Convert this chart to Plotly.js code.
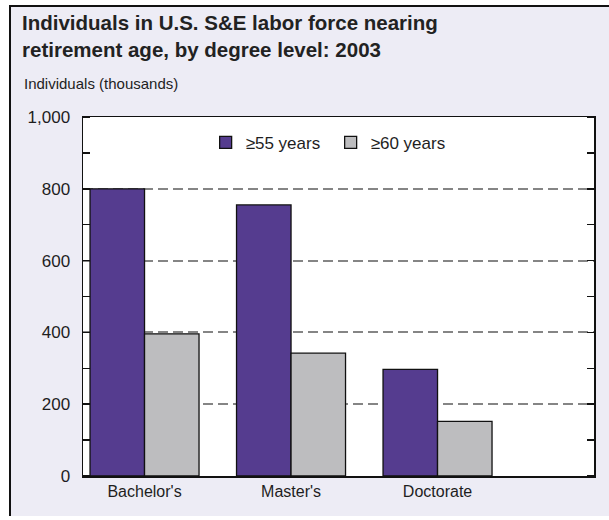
<!DOCTYPE html>
<html>
<head>
<meta charset="utf-8">
<script src="https://cdn.plot.ly/plotly-3.0.1.min.js"></script>
<style>
  html, body { margin: 0; padding: 0; background: #ffffff; }
  #frame {
    position: absolute; left: 9px; top: 5px;
    width: 600px; height: 511px;
    box-sizing: border-box;
    border-left: 2px solid #111; border-top: 2px solid #111;
    background: #EDECF5;
  }
  #chart { width: 598px; height: 509px; }
</style>
</head>
<body>
<div id="frame"><div id="chart"></div></div>
<script>
// Data
const categories = ["Bachelor's", "Master's", "Doctorate"];
const age55 = [800, 755, 297];
const age60 = [396, 342, 152];
const seriesNames = ["\u226555 years", "\u226560 years"];
const yTickVals = [0, 200, 400, 600, 800, 1000];
const yTickText = ["0", "200", "400", "600", "800", "1,000"];

const FONT = "'Liberation Sans', Arial, Helvetica, sans-serif";
const TXT = "#1e1e1e";

const traces = [
  {
    type: "bar", name: seriesNames[0], x: categories, y: age55,
    marker: { color: "#553C8F", line: { color: "#111111", width: 1.3 } },
    hoverinfo: "x+y+name"
  },
  {
    type: "bar", name: seriesNames[1], x: categories, y: age60,
    marker: { color: "#BDBDBF", line: { color: "#111111", width: 1.3 } },
    hoverinfo: "x+y+name"
  }
];

const layout = {
  width: 598, height: 509,
  margin: { l: 72, r: 15, t: 110, b: 40, pad: 0 },
  paper_bgcolor: "rgba(0,0,0,0)",
  plot_bgcolor: "#ffffff",
  font: { family: FONT, color: TXT, size: 16 },
  barmode: "group",
  bargap: 0.256,
  bargroupgap: 0,
  title: {
    text: "Individuals in U.S. S&E labor force nearing<br>retirement age, by degree level: 2003",
    font: { family: FONT, size: 20.5, color: "#222222", weight: "bold" },
    x: 11 / 598, xref: "container", xanchor: "left",
    y: 1 - 23 / 509, yref: "container", yanchor: "top"
  },
  xaxis: {
    type: "category",
    range: [-0.42, 3.068],
    showline: true, linecolor: "#111111", linewidth: 1.5,
    mirror: true,
    ticks: "", showgrid: false, zeroline: false,
    tickfont: { size: 16, color: TXT }
  },
  yaxis: {
    range: [0, 1000],
    tickvals: yTickVals, ticktext: yTickText,
    ticks: "",
    showline: true, linecolor: "#111111", linewidth: 1.5,
    mirror: "allticks",
    showgrid: true, gridcolor: "#858585", gridwidth: 1.8, griddash: "10px,5px",
    zeroline: false,
    minor: { dtick: 100, tick0: 0, ticks: "inside", ticklen: 7, tickcolor: "#111111", tickwidth: 1.5, showgrid: false },
    tickfont: { size: 17, color: TXT },
    ticklabelstandoff: 8
  },
  showlegend: true,
  legend: {
    orientation: "h",
    x: 0.24, xanchor: "left",
    y: 0.928, yanchor: "middle",
    bgcolor: "rgba(0,0,0,0)",
    font: { size: 17, color: TXT },
    entrywidth: 80, entrywidthmode: "pixels",
    traceorder: "normal"
  },
  annotations: [
    {
      text: "Individuals (thousands)",
      xref: "paper", yref: "paper",
      x: -0.1194, y: 1.0947, xanchor: "left", yanchor: "middle",
      showarrow: false,
      font: { size: 15, color: TXT }
    }
  ]
};

Plotly.newPlot("chart", traces, layout, { displayModeBar: false, staticPlot: true });
</script>
</body>
</html>
